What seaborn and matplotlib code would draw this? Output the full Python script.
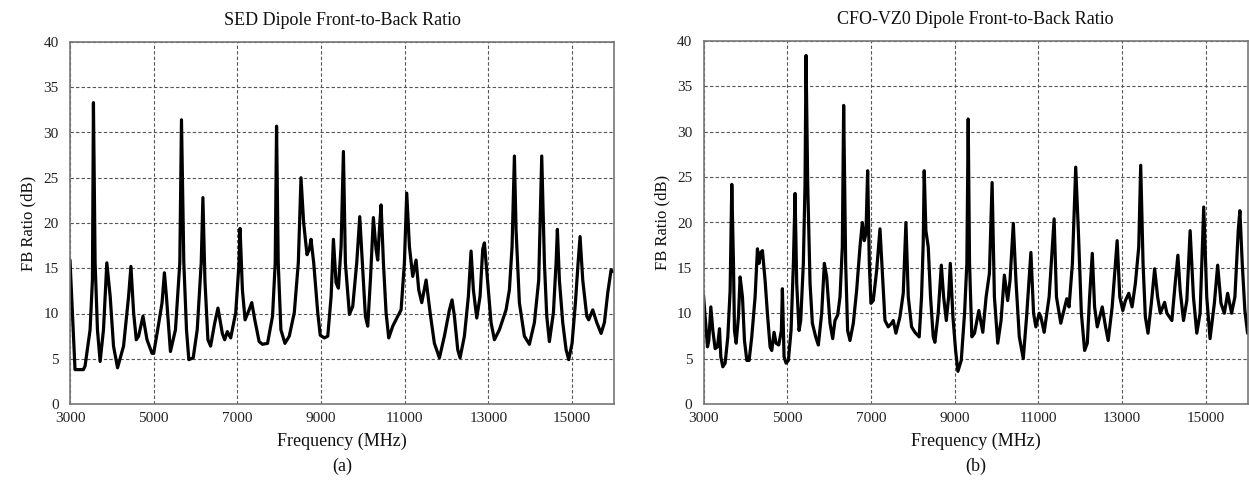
import numpy as np
import pandas as pd
import matplotlib
matplotlib.use("Agg")
import matplotlib.pyplot as plt
import seaborn as sns
from matplotlib.ticker import MultipleLocator, FixedLocator

# ---------------- data ----------------
sed_freq = [3000, 3120, 3320, 3360, 3480, 3536, 3560, 3600, 3656, 3720, 3800, 3880, 3960, 4040, 4136,
            4280, 4400, 4456, 4520, 4584, 4640, 4744, 4840, 4960, 5000, 5120, 5200, 5256, 5304, 5400,
            5520, 5624, 5664, 5720, 5784, 5840, 5944, 6040, 6136, 6176, 6224, 6296, 6360, 6456, 6536,
            6640, 6696, 6760, 6840, 6960, 7040, 7064, 7120, 7184, 7280, 7344, 7416, 7520, 7600, 7720,
            7840, 7904, 7936, 7976, 8040, 8136, 8240, 8360, 8456, 8520, 8584, 8664, 8720, 8760, 8824,
            8920, 8980, 9080, 9160, 9240, 9295, 9358, 9414, 9478, 9534, 9581, 9677, 9757, 9852, 9924,
            9996, 10059, 10115, 10179, 10250, 10314, 10354, 10394, 10434, 10490, 10553, 10617, 10713,
            10832, 10912, 10991, 11047, 11111, 11190, 11270, 11334, 11406, 11510, 11605, 11708, 11828,
            11947, 12067, 12130, 12186, 12266, 12321, 12425, 12520, 12584, 12640, 12720, 12799, 12863,
            12903, 12983, 13062, 13142, 13261, 13420, 13500, 13564, 13620, 13659, 13739, 13858, 13978,
            14098, 14201, 14273, 14337, 14393, 14456, 14552, 14616, 14647, 14695, 14775, 14855, 14918,
            14998, 15078, 15142, 15189, 15253, 15349, 15396, 15492, 15588, 15691, 15771, 15851, 15930,
            16000]
sed_fb = [15.9, 3.8, 3.8, 4.2, 8.2, 13.7, 33.3, 15.6, 8.2, 4.7, 8.2, 15.6, 11.9, 6.4, 4.0,
          6.4, 11.9, 15.2, 10.1, 7.1, 7.5, 9.7, 7.1, 5.6, 5.6, 8.9, 11.2, 14.5, 11.9, 5.8,
          8.2, 15.6, 31.4, 15.6, 8.2, 4.9, 5.1, 8.2, 15.6, 22.8, 13.7, 7.1, 6.4, 8.9, 10.6,
          7.8, 7.1, 8.0, 7.3, 10.1, 15.6, 19.4, 12.6, 9.3, 10.4, 11.2, 9.3, 6.9, 6.6, 6.7,
          9.7, 15.6, 30.7, 15.6, 8.2, 6.7, 7.5, 10.1, 15.6, 25.0, 20.0, 16.5, 17.1, 18.2, 15.6,
          10.1, 7.6, 7.3, 7.5, 11.9, 18.2, 13.4, 12.8, 17.4, 27.9, 15.6, 9.9, 10.8, 15.6, 20.7,
          14.8, 9.7, 8.6, 13.7, 20.6, 17.1, 15.9, 19.3, 22.0, 15.6, 10.1, 7.3, 8.6,
          9.7, 10.4, 15.6, 23.3, 17.4, 14.1, 15.9, 12.6, 11.2, 13.7, 10.1, 6.7, 5.1,
          7.5, 10.4, 11.5, 9.7, 6.0, 5.1, 7.5, 11.9, 16.9, 12.6, 9.5, 11.9, 17.1,
          17.8, 13.4, 9.0, 7.1, 8.2, 10.4, 12.6, 17.4, 27.4, 19.3, 11.2, 7.5, 6.6,
          9.0, 13.7, 27.4, 15.6, 9.7, 6.9, 10.1, 15.6, 19.3, 13.7, 9.0, 6.0, 4.9,
          6.7, 11.2, 15.6, 18.5, 13.7, 9.7, 9.3, 10.4, 9.0, 7.8, 9.0, 12.3, 14.8,
          14.6]

cfo_freq = [3000, 3040, 3095, 3127, 3175, 3223, 3278, 3334, 3382, 3414, 3461, 3517,
            3581, 3636, 3676, 3716, 3740, 3780, 3835, 3875, 3931, 3979, 4035, 4090,
            4153, 4233, 4289, 4329, 4368, 4408, 4472, 4527, 4591, 4631,
            4686, 4734, 4798, 4861, 4885, 4925, 4973, 5028,
            5092, 5148, 5188, 5227, 5283, 5323, 5386, 5426, 5450, 5490, 5546, 5601, 5681, 5744,
            5824, 5888, 5943, 6023, 6087, 6142, 6206, 6262, 6317, 6349, 6397, 6444, 6500,
            6580, 6659, 6739, 6795, 6842, 6882, 6922, 6962, 7001, 7057,
            7137, 7217, 7272, 7336, 7415, 7495, 7534, 7598,
            7694, 7773, 7837, 7893, 7972, 8051, 8154,
            8210, 8250, 8274, 8314, 8370, 8425, 8489, 8529, 8608, 8683, 8738, 8802, 8857, 8897,
            8960, 9024, 9079, 9159,
            9238, 9293, 9325, 9357, 9412, 9476, 9579, 9674, 9753, 9832, 9896, 9951, 10031,
            10110, 10189, 10268, 10324, 10403, 10466, 10546, 10641, 10720, 10823, 10887, 10942,
            11021, 11061, 11140,
            11259, 11378, 11434, 11537, 11632, 11680, 11735, 11815, 11894, 11957, 12029, 12107, 12171,
            12226, 12290, 12345, 12409, 12528, 12607, 12670, 12765, 12884, 12947, 13019, 13082, 13162, 13241,
            13320, 13400, 13447, 13503, 13558, 13621, 13701, 13780, 13851, 13915, 14018, 14073, 14192,
            14271, 14335, 14390, 14470, 14549, 14628, 14707, 14787, 14866, 14953, 15025, 15104,
            15207, 15286, 15365, 15445, 15524, 15619, 15698, 15777, 15817, 15873, 15936, 16000]
cfo_fb = [12.0, 9.6, 6.3, 7.0, 10.7, 8.1, 6.1, 6.3, 8.3, 5.2, 4.1, 4.5,
          7.4, 12.5, 24.2, 15.5, 8.1, 6.7, 9.6, 14.0, 11.8, 7.0, 4.8, 4.8,
          7.4, 11.8, 17.1, 15.5, 16.7, 16.9, 13.6, 10.0, 6.3, 5.9,
          7.9, 6.7, 6.5, 8.1, 12.7, 5.2, 4.5, 4.8,
          8.1, 15.5, 23.2, 13.3, 8.1, 9.2, 15.5, 24.2, 38.4, 24.2, 13.3, 8.9, 7.4, 6.5,
          10.0, 15.5, 14.0, 8.9, 7.2, 9.2, 9.8, 11.8, 17.3, 32.9, 15.5, 8.1, 7.0,
          8.9, 12.5, 17.3, 20.0, 18.0, 18.8, 25.7, 15.5, 11.1, 11.4,
          14.7, 19.3, 14.7, 9.2, 8.5, 8.9, 9.2, 7.8,
          9.6, 12.2, 20.0, 11.8, 8.5, 7.9, 7.4,
          11.8, 17.7, 25.7, 19.1, 17.3, 11.8, 7.4, 6.8, 10.0, 15.3, 11.8, 9.2, 11.8, 15.5,
          9.6, 5.9, 3.6, 4.8,
          10.0, 15.5, 31.4, 15.5, 7.4, 7.8, 10.3, 7.9, 11.8, 14.4, 24.4, 11.8, 6.7,
          9.2, 14.2, 11.4, 13.6, 19.9, 13.6, 7.4, 5.0, 9.6, 16.7, 10.0, 8.5,
          10.0, 9.6, 7.9,
          11.8, 20.4, 11.8, 8.9, 10.7, 11.6, 10.7, 15.5, 26.1, 19.1, 10.0, 5.9, 6.7,
          11.8, 16.6, 10.7, 8.5, 10.7, 8.5, 7.0, 10.7, 18.0, 11.8, 10.3, 11.4, 12.2, 10.7,
          13.3, 17.3, 26.3, 15.5, 9.6, 7.8, 11.1, 14.9, 11.8, 10.0, 11.2, 10.0, 9.2,
          13.3, 16.4, 12.5, 9.2, 11.4, 19.1, 11.8, 7.8, 10.0, 21.7, 11.8, 7.2,
          11.1, 15.3, 11.1, 10.0, 12.2, 10.0, 11.8, 19.1, 21.3, 15.5, 10.3, 7.8]

titles = ["SED Dipole Front-to-Back Ratio", "CFO-VZ0 Dipole Front-to-Back Ratio"]
sublabels = ["(a)", "(b)"]
x_major = [3000, 5000, 7000, 9000, 11000, 13000, 15000]
y_major = [0, 5, 10, 15, 20, 25, 30, 35, 40]

# ---------------- style ----------------
sns.set_style("white")
plt.rcParams["font.family"] = ["Liberation Serif", "DejaVu Serif"]

W, H = 1249, 486
fig = plt.figure(figsize=(W / 100, H / 100), dpi=100)

px_per_mhz = 41.85 / 1000.0
axes_px = [(70, 42, 614, 404), (703.5, 41, 703.5 + 13000 * px_per_mhz, 404)]

series = [(sed_freq, sed_fb), (cfo_freq, cfo_fb)]
for i, ((f, v), (x0, y0, x1, y1)) in enumerate(zip(series, axes_px)):
    ax = fig.add_axes([x0 / W, 1 - y1 / H, (x1 - x0) / W, (y1 - y0) / H])
    df = pd.DataFrame({"Frequency": f, "FB": v})
    sns.lineplot(data=df, x="Frequency", y="FB", ax=ax, color="black",
                 linewidth=2.3, sort=False, estimator=None)
    ax.set_xlim(3000, 16000)
    ax.set_ylim(0, 40)
    ax.xaxis.set_major_locator(FixedLocator(x_major))
    ax.xaxis.set_minor_locator(MultipleLocator(1000))
    ax.yaxis.set_major_locator(FixedLocator(y_major))
    ax.yaxis.set_minor_locator(MultipleLocator(2.5))
    ax.tick_params(axis="both", which="major", direction="in", length=7, width=1.0,
                   color="#555555", labelsize=11, labelcolor="#222222")
    ax.tick_params(axis="x", which="major", pad=6)
    ax.tick_params(axis="y", which="major", pad=8)
    ax.tick_params(axis="both", which="minor", direction="in", length=6, width=1.0,
                   color="#555555")
    ax.grid(True, which="major", linestyle=(0, (3, 2)), color="#555555", linewidth=0.8)
    for s in ax.spines.values():
        s.set_color("#777777")
        s.set_linewidth(1.2)
    ax.set_title(titles[i], fontsize=13, pad=12, color="#111111")
    ax.set_xlabel("Frequency (MHz)", fontsize=13, labelpad=5, color="#111111")
    ax.set_ylabel("FB Ratio (dB)", fontsize=12, labelpad=5, color="#111111")
    fig.text((x0 + (x1 - x0) / 2) / W, 1 - 466 / H, sublabels[i], ha="center", va="center",
             fontsize=13, color="#111111")

fig.savefig("out.png", dpi=100)
